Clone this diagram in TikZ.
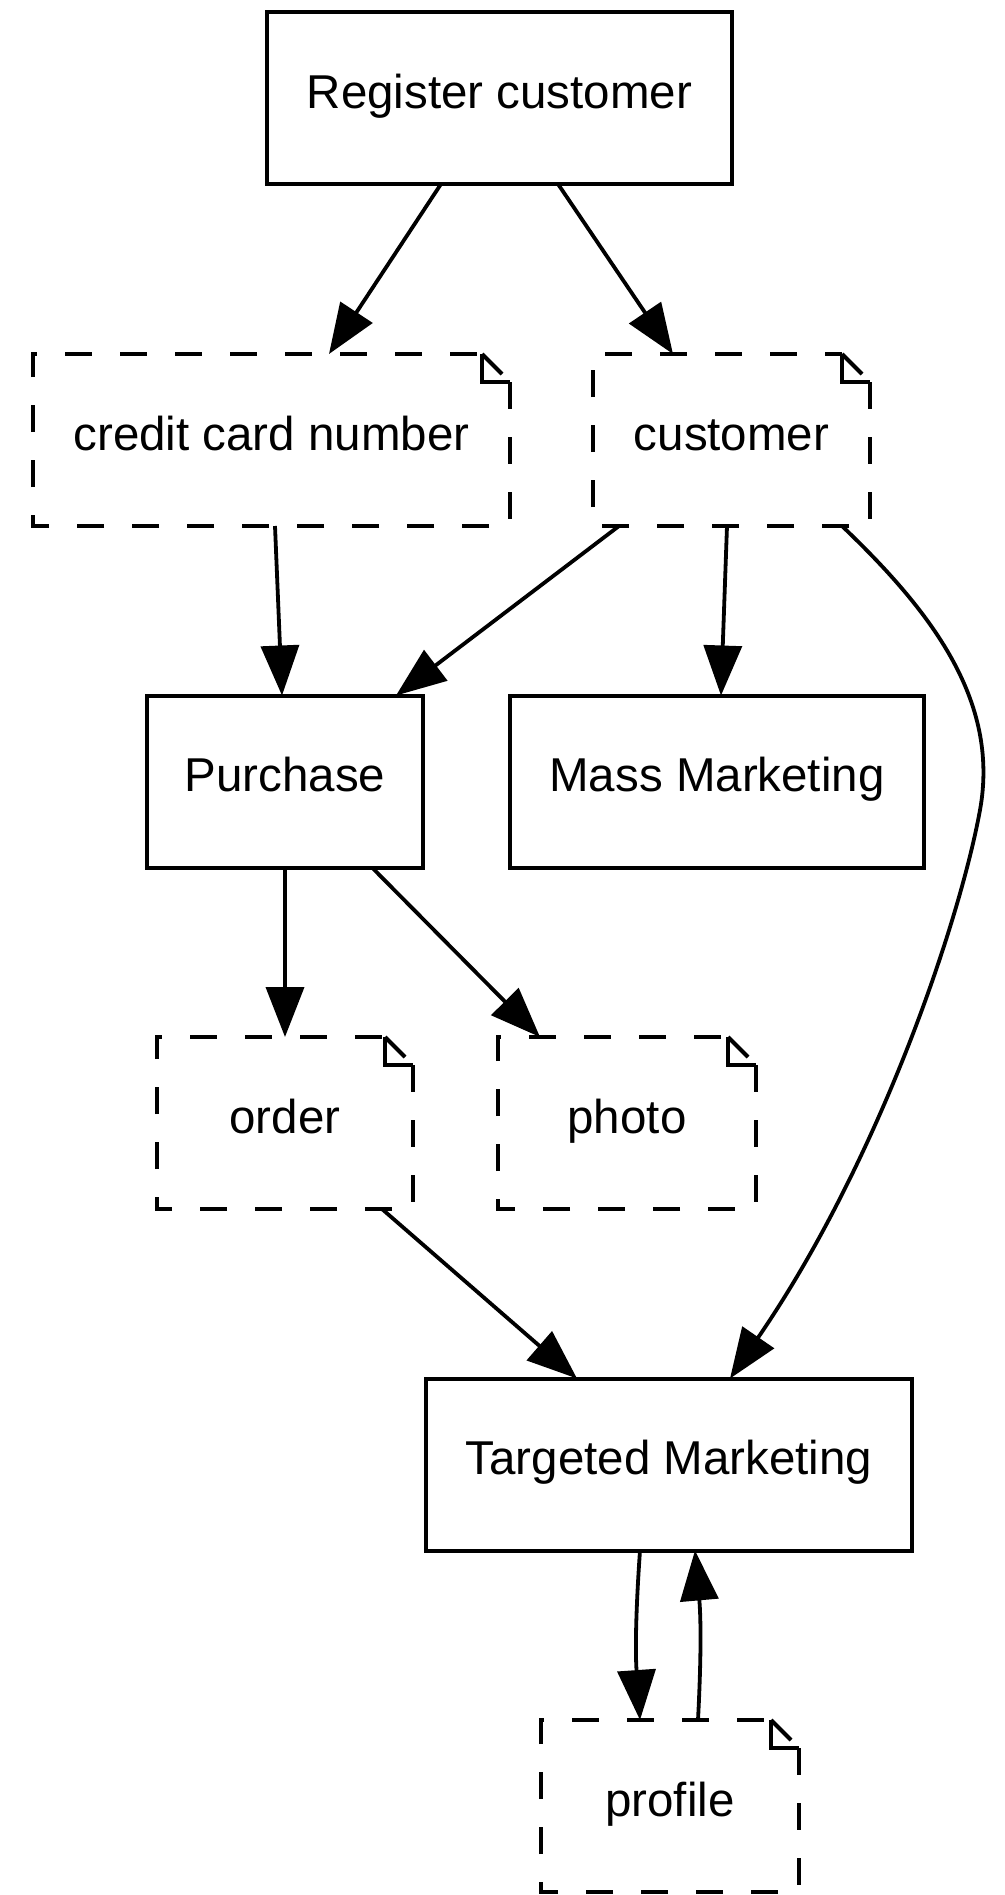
\documentclass[tikz,border=0pt]{standalone}
\usepackage{fontspec}
\setmainfont{Liberation Sans}
\usetikzlibrary{arrows.meta}

\begin{document}
\begin{tikzpicture}[
  x=1pt, y=-1pt,
  basebox/.style={rectangle, inner sep=0pt, outer sep=0pt, minimum height=172pt,
    text height=30pt, text depth=10pt, font=\fontsize{47.5pt}{57pt}\selectfont},
  procbox/.style={basebox, draw, line width=4pt},
  notebox/.style={basebox},
  noteline/.style={line width=4pt, dash pattern=on 27pt off 28pt},
  foldline/.style={line width=4pt},
  flow/.style={line width=3.8pt, -{Triangle[length=50pt,width=38pt]}}
]
\path[use as bounding box] (0,0) rectangle (1004,1895);

% processes and data items
\node[procbox, minimum width=465pt] (reg)   at (499.5,98)   {Register customer};
\node[notebox, minimum width=477pt] (cc)    at (271.5,440)  {credit card number};
\node[notebox, minimum width=277pt] (cust)  at (731.5,440)  {customer};
\node[procbox, minimum width=276pt] (purch) at (285,781.5)  {Purchase};
\node[procbox, minimum width=414pt] (mass)  at (717,781.5)  {Mass Marketing};
\node[notebox, minimum width=256pt] (order) at (285,1123)   {order};
\node[notebox, minimum width=258pt] (photo) at (627,1123)   {photo};
\node[procbox, minimum width=486pt] (targ)  at (669,1464.5) {Targeted Marketing};
\node[notebox, minimum width=258pt] (prof)  at (670,1806)   {profile};

% dashed note outlines with a folded top-right corner
\foreach \n in {cc,cust,order,photo,prof} {
  \draw[noteline] ([yshift=-28pt]\n.north east) -- (\n.south east) -- (\n.south west)
    -- (\n.north west) -- ([xshift=-28pt]\n.north east);
  \draw[foldline] ([xshift=-28pt]\n.north east) -- ([xshift=-28pt,yshift=-28pt]\n.north east)
    -- ([yshift=-28pt]\n.north east);
  \draw[foldline] ([xshift=-28pt]\n.north east) -- ([xshift=-8pt,yshift=-20pt]\n.north east);
}

% data flow
\draw[flow] ([xshift=-58.5pt]reg.south) -- ([xshift=57.5pt]cc.north);
\draw[flow] ([xshift=58.5pt]reg.south) -- ([xshift=-58.5pt]cust.north);
\draw[flow] ([xshift=3.5pt]cc.south) -- ([xshift=-3pt]purch.north);
\draw[flow] ([xshift=-112.5pt]cust.south) -- ([xshift=111pt]purch.north);
\draw[flow] ([xshift=-4.5pt]cust.south) -- ([xshift=4pt]mass.north);
\draw[flow] ([xshift=110.5pt]cust.south) .. controls (930,610) and (1000,700) .. (980,810)
  .. controls (960,920) and (880,1160) .. ([xshift=61pt]targ.north);
\draw[flow] (purch.south) -- (order.north);
\draw[flow] ([xshift=87pt]purch.south) -- ([xshift=-87pt]photo.north);
\draw[flow] ([xshift=97pt]order.south) -- ([xshift=-92pt]targ.north);
\draw[flow] ([xshift=-29pt]targ.south) to[bend right=4] ([xshift=-30pt]prof.north);
\draw[flow] ([xshift=28pt]prof.north) to[bend right=4] ([xshift=26pt]targ.south);
\end{tikzpicture}
\end{document}
